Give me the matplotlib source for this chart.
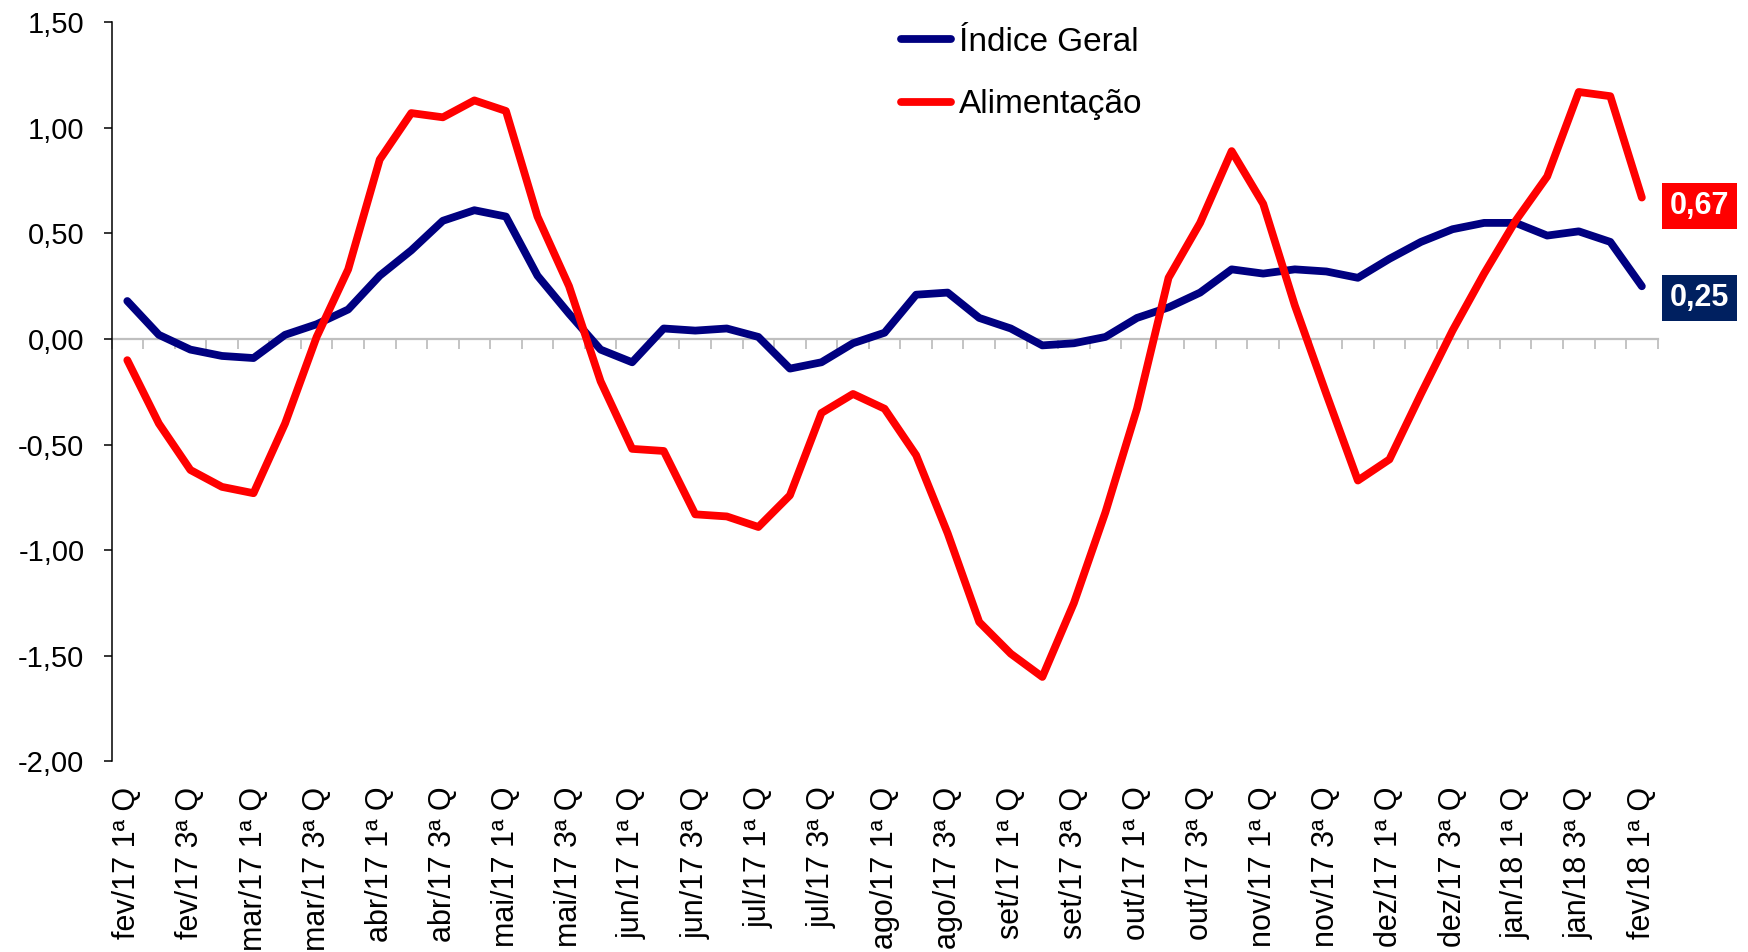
import numpy as np
import matplotlib
matplotlib.use('Agg')
import matplotlib.pyplot as plt

plt.rcParams['font.family'] = ['Liberation Sans', 'DejaVu Sans']

# IPC-Fipe quadrissemanas, fev/17 1a Q ... fev/18 1a Q
meses = ['fev/17', 'mar/17', 'abr/17', 'mai/17', 'jun/17', 'jul/17',
         'ago/17', 'set/17', 'out/17', 'nov/17', 'dez/17', 'jan/18', 'fev/18']
quads = ['1ª Q', '2ª Q', '3ª Q', '4ª Q']

periodos = [f'{m} {q}' for m in meses[:-1] for q in quads] + [f'{meses[-1]} 1ª Q']

indice_geral = [0.18, 0.02, -0.05, -0.08, -0.09, 0.02, 0.07, 0.14, 0.30, 0.42,
                0.56, 0.61, 0.58, 0.30, 0.12, -0.05, -0.11, 0.05, 0.04, 0.05,
                0.01, -0.14, -0.11, -0.02, 0.03, 0.21, 0.22, 0.10, 0.05, -0.03,
                -0.02, 0.01, 0.10, 0.15, 0.22, 0.33, 0.31, 0.33, 0.32, 0.29,
                0.38, 0.46, 0.52, 0.55, 0.55, 0.49, 0.51, 0.46, 0.25]

alimentacao = [-0.10, -0.40, -0.62, -0.70, -0.73, -0.40, 0.01, 0.33, 0.85, 1.07,
               1.05, 1.13, 1.08, 0.58, 0.25, -0.20, -0.52, -0.53, -0.83, -0.84,
               -0.89, -0.74, -0.35, -0.26, -0.33, -0.55, -0.92, -1.34, -1.49, -1.60,
               -1.25, -0.82, -0.33, 0.29, 0.55, 0.89, 0.64, 0.16, -0.26, -0.67,
               -0.57, -0.26, 0.04, 0.31, 0.56, 0.77, 1.17, 1.15, 0.67]

azul = '#000080'
vermelho = '#FF0000'

x = np.arange(len(periodos))

fig = plt.figure(figsize=(17.48, 9.52), dpi=100)
ax = fig.add_axes([0.0638, 0.2002, 0.8845, 0.7764])

ax.plot(x, indice_geral, color=azul, lw=5.6, solid_capstyle='round',
        solid_joinstyle='round', label='Índice Geral', zorder=3)
ax.plot(x, alimentacao, color=vermelho, lw=5.6, solid_capstyle='round',
        solid_joinstyle='round', label='Alimentação', zorder=3)

ax.set_xlim(-0.5, len(periodos) - 0.5)
ax.set_ylim(-2.0, 1.5)

# y axis
yt = np.arange(-2.0, 1.51, 0.5)
ax.set_yticks(yt)
ax.set_yticklabels([f'{v:.2f}'.replace('.', ',') for v in yt])
ax.tick_params(axis='y', direction='out', length=5.5, width=1.1,
               labelsize=21, pad=14, colors='black')

for s in ['top', 'right', 'bottom']:
    ax.spines[s].set_visible(False)
ax.spines['left'].set_linewidth(1.1)

# category labels at the bottom, every other period
ax.set_xticks(x[::2])
ax.set_xticklabels(periodos[::2], rotation=90)
ax.tick_params(axis='x', length=0, labelsize=22, pad=18)

# gray category axis crossing at zero
zero_ax = ax.secondary_xaxis(0, transform=ax.transData)
zero_ax.spines['bottom'].set_color('#BFBFBF')
zero_ax.spines['bottom'].set_linewidth(1.6)
zero_ax.set_xticks(np.arange(-0.5, len(periodos), 1.0))
zero_ax.set_xticklabels([])
zero_ax.tick_params(axis='x', direction='out', length=7, width=1.3,
                    colors='#BFBFBF')

# end value labels
ax.text(49.82, 0.628, f'{alimentacao[-1]:.2f}'.replace('.', ','),
        color='white', fontsize=22, fontweight='bold', ha='center', va='center',
        bbox=dict(boxstyle='square,pad=0.26', fc=vermelho, ec='none'),
        clip_on=False)
ax.text(49.82, 0.195, f'{indice_geral[-1]:.2f}'.replace('.', ','),
        color='white', fontsize=22, fontweight='bold', ha='center', va='center',
        bbox=dict(boxstyle='square,pad=0.26', fc='#002060', ec='none'),
        clip_on=False)

leg = ax.legend(loc='upper left', bbox_to_anchor=(0.5155, 0.972),
                bbox_transform=fig.transFigure, frameon=False, fontsize=24,
                handlelength=1.5, handletextpad=0.25, labelspacing=0.95,
                borderpad=0, borderaxespad=0)

fig.savefig('out.png', dpi=100, facecolor='white')
